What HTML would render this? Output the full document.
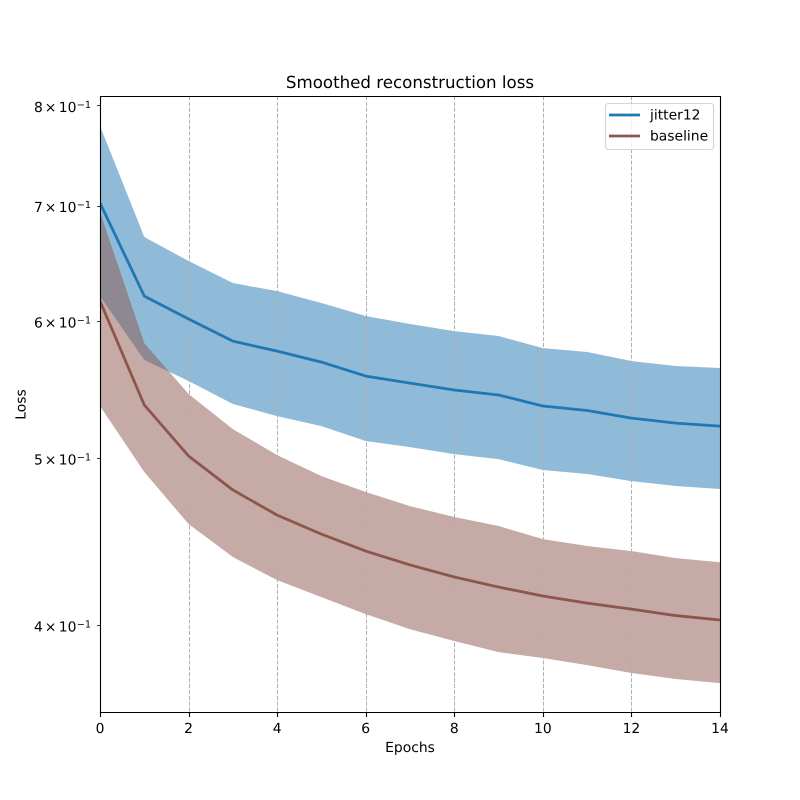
<!DOCTYPE html>
<html lang="en">
<head>
<meta charset="utf-8">
<title>Smoothed reconstruction loss</title>
<style>
html,body{margin:0;padding:0;background:#fff;}
svg{display:block;}
text{font-family:"DejaVu Sans","Liberation Sans",sans-serif;fill:#000;text-rendering:geometricPrecision;}
</style>
</head>
<body>
<svg id="chart" xmlns="http://www.w3.org/2000/svg" width="800" height="800" viewBox="0 0 800 800">
  <defs>
    <clipPath id="plot-clip"><rect x="100" y="96" width="620" height="616"/></clipPath>
  </defs>
  <rect x="0" y="0" width="800" height="800" fill="#ffffff"/>
  <g id="bands" clip-path="url(#plot-clip)"></g>
  <g id="grid"></g>
  <g id="marks" clip-path="url(#plot-clip)"></g>
  <g id="ticks"></g>
  <g stroke="#000" stroke-width="1.11" fill="none">
    <line x1="100.5" y1="96" x2="100.5" y2="713"/>
    <line x1="720.5" y1="96" x2="720.5" y2="713"/>
    <line x1="100" y1="96.5" x2="721" y2="96.5"/>
    <line x1="100" y1="712.5" x2="721" y2="712.5"/>
  </g>
  <text x="410" y="88" text-anchor="middle" font-size="16.67">Smoothed reconstruction loss</text>
  <text x="410" y="752" text-anchor="middle" font-size="13.89">Epochs</text>
  <text transform="translate(25.5 404.5) rotate(-90)" text-anchor="middle" font-size="13.89">Loss</text>
  <g>
    <rect x="605.5" y="103.5" width="108" height="46" rx="2.8" ry="2.8" fill="#ffffff" fill-opacity="0.8" stroke="#cccccc" stroke-opacity="0.8" stroke-width="1.11"/>
    <line x1="609" y1="115" x2="640" y2="115" stroke="#1f77b4" stroke-width="2.78"/>
    <text x="650" y="119.5" font-size="13.89">jitter12</text>
    <line x1="609" y1="136" x2="640" y2="136" stroke="#8c564b" stroke-width="2.78"/>
    <text x="650" y="140.5" font-size="13.89">baseline</text>
  </g>
</svg>
<script>
const epochs = [0,1,2,3,4,5,6,7,8,9,10,11,12,13,14];
const xTickValues = [0,2,4,6,8,10,12,14];
const yTickDigits = [8,7,6,5,4];
const xDomain = [0,14];
const yDomain = [0.3562,0.8102];

const jitterMean  = [0.7024,0.6204,0.6017,0.5842,0.5765,0.5681,0.5576,0.5524,0.5473,0.5437,0.5358,0.5326,0.5272,0.5237,0.5216];
const jitterUpper = [0.7784,0.6713,0.6501,0.6313,0.6245,0.6147,0.6041,0.5977,0.5921,0.5882,0.5788,0.5758,0.5689,0.5651,0.5636];
const jitterLower = [0.6204,0.5697,0.5539,0.5372,0.5286,0.5216,0.5113,0.5072,0.5025,0.4991,0.4919,0.4893,0.4847,0.4815,0.4796];

const baselineMean  = [0.6163,0.5365,0.5012,0.4790,0.4632,0.4516,0.4415,0.4334,0.4265,0.4208,0.4158,0.4119,0.4086,0.4051,0.4027];
const baselineUpper = [0.6940,0.5827,0.5444,0.5195,0.5018,0.4879,0.4777,0.4688,0.4620,0.4565,0.4486,0.4445,0.4415,0.4374,0.4350];
const baselineLower = [0.5358,0.4906,0.4577,0.4380,0.4247,0.4152,0.4059,0.3978,0.3916,0.3858,0.3828,0.3792,0.3752,0.3722,0.3702];

const NS = 'http://www.w3.org/2000/svg';
const plotLeft = 100, plotRight = 720, plotTop = 96, plotBottom = 712;

function xScale(v){
  return plotLeft + (v - xDomain[0]) / (xDomain[1] - xDomain[0]) * (plotRight - plotLeft);
}
function yScale(v){
  const lo = Math.log10(yDomain[0]), hi = Math.log10(yDomain[1]);
  return plotBottom - (Math.log10(v) - lo) / (hi - lo) * (plotBottom - plotTop);
}
function make(tag, parent, attrs){
  const el = document.createElementNS(NS, tag);
  for (const k in attrs) el.setAttribute(k, attrs[k]);
  parent.appendChild(el);
  return el;
}
function linePoints(values){
  return values.map((v,i) => xScale(epochs[i]).toFixed(2) + ',' + yScale(v).toFixed(2)).join(' ');
}
function bandPoints(upper, lower){
  const top = upper.map((v,i) => xScale(epochs[i]).toFixed(2) + ',' + yScale(v).toFixed(2));
  const bottom = lower.map((v,i) => xScale(epochs[i]).toFixed(2) + ',' + yScale(v).toFixed(2)).reverse();
  return top.concat(bottom).join(' ');
}

const bandsG = document.getElementById('bands');
const gridG = document.getElementById('grid');
const marksG = document.getElementById('marks');
const ticksG = document.getElementById('ticks');

xTickValues.forEach(t => {
  const px = Math.round(xScale(t)) + 0.5;
  if (t > xDomain[0] && t < xDomain[1]) {
    const g = make('line', gridG, {x1:px, y1:plotTop, x2:px, y2:plotBottom, stroke:'#b0b0b0', 'stroke-width':1, 'stroke-dasharray':'4.1 1.78'});
    
    
  }
  const tick = make('line', ticksG, {x1:px, y1:plotBottom, x2:px, y2:plotBottom + 5, stroke:'#000', 'stroke-width':1.11});
  
  
  const label = make('text', ticksG, {x:xScale(t), y:733, 'text-anchor':'middle', 'font-size':13.89});
  
  
  label.textContent = String(t);
});

const jitterBand = make('polygon', bandsG, {points:bandPoints(jitterUpper, jitterLower), fill:'#1f77b4', 'fill-opacity':0.5});



const baselineBand = make('polygon', bandsG, {points:bandPoints(baselineUpper, baselineLower), fill:'#8c564b', 'fill-opacity':0.5});



const jitterLine = make('polyline', marksG, {points:linePoints(jitterMean), fill:'none', stroke:'#1f77b4', 'stroke-width':2.78, 'stroke-linejoin':'round'});



const baselineLine = make('polyline', marksG, {points:linePoints(baselineMean), fill:'none', stroke:'#8c564b', 'stroke-width':2.78, 'stroke-linejoin':'round'});



yTickDigits.forEach(d => {
  const py = yScale(d / 10);
  const snapped = Math.round(py) + 0.5;
  const tick = make('line', ticksG, {x1:97.2, y1:snapped, x2:plotLeft, y2:snapped, stroke:'#000', 'stroke-width':0.83});
  
  
  const digit = make('text', ticksG, {x:34, y:py + 6.6, 'font-size':13.89});
  
  
  digit.textContent = String(d);
  const times = make('text', ticksG, {x:44.7, y:py + 6.6, 'font-size':13.89});
  
  
  times.textContent = '\u00d7';
  const base = make('text', ticksG, {x:58.8, y:py + 6.6, 'font-size':13.89});
  
  
  base.textContent = '10';
  const exp = make('text', ticksG, {x:76.7, y:py + 2.6, 'font-size':9.72});
  
  
  exp.textContent = '\u22121';
});
</script>
</body>
</html>
